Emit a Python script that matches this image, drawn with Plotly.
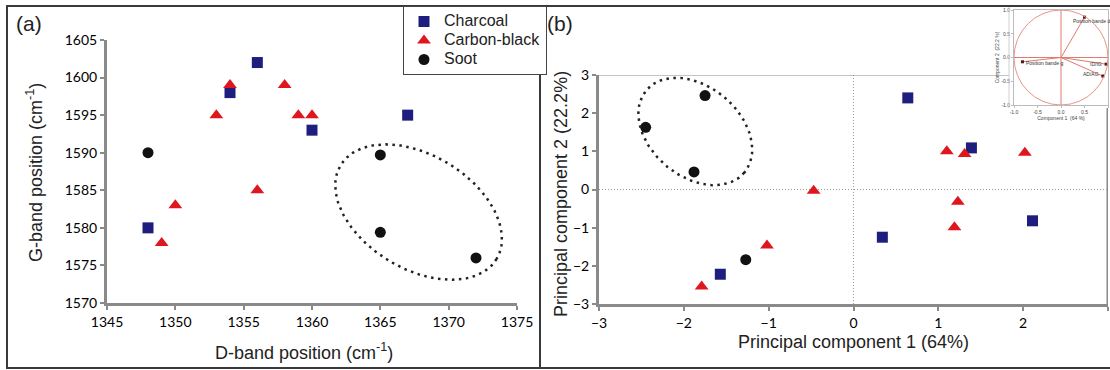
import numpy as np
import plotly.graph_objects as go

# ---------------- data ----------------
series_names = ["Charcoal", "Carbon-black", "Soot"]

# panel (a): D-band vs G-band position
a_charcoal_x = [1348, 1354, 1356, 1360, 1367]
a_charcoal_y = [1580, 1598, 1602, 1593, 1595]
a_carbon_x = [1349, 1350, 1353, 1354, 1356, 1358, 1359, 1360]
a_carbon_y = [1578, 1583, 1595, 1599, 1585, 1599, 1595, 1595]
a_soot_x = [1348, 1365, 1365, 1372]
a_soot_y = [1590, 1589.7, 1579.4, 1576]

# panel (b): PCA scores
b_charcoal_x = [0.64, 1.39, 2.11, 0.34, -1.57]
b_charcoal_y = [2.40, 1.09, -0.82, -1.25, -2.22]
b_carbon_x = [1.10, 1.31, 2.02, 1.23, 1.19, -0.47, -1.02, -1.79]
b_carbon_y = [1.00, 0.93, 0.96, -0.32, -0.99, -0.03, -1.47, -2.54]
b_soot_x = [-1.75, -2.45, -1.88, -1.27]
b_soot_y = [2.46, 1.63, 0.46, -1.84]

# inset: loading vectors (correlation circle)
load_names = ["Position bande d", "Position bande g", "ID/IG", "AD/AG"]
load_x = [0.50, -0.82, 0.96, 0.89]
load_y = [0.85, -0.09, -0.14, -0.39]

a_xticks = [1345, 1350, 1355, 1360, 1365, 1370, 1375]
a_yticks = [1570, 1575, 1580, 1585, 1590, 1595, 1600, 1605]
b_ticks = [-3, -2, -1, 0, 1, 2, 3]
inset_ticks = [-1.0, -0.5, 0.0, 0.5, 1.0]
inset_ticktext = ["-1.0", "-0.5", "0.0", "0.5", "1.0"]

# ---------------- styling ----------------
W, H = 1110, 370
C_SQ = "#1e1e7e"
C_TRI = "#e0161e"
C_CIR = "#111111"
AX = "#8a8a8a"
TICKFONT = dict(family="Lato, Open Sans, sans-serif", size=14, color="#000")
TITLEFONT = dict(family="Liberation Sans, Arial, sans-serif", size=18, color="#222")


def px_x(p):
    return p / W


def px_y(p):
    return 1 - p / H


# plot area pixel boxes
A_BOX = (107, 517, 40, 303)
B_BOX = (599, 1108, 75, 304)
I_BOX = (1014, 1108, 10, 105)

fig = go.Figure()

sym = {"Charcoal": ("square", C_SQ, 11), "Carbon-black": ("triangle-up", C_TRI, 12), "Soot": ("circle", C_CIR, 11)}

a_data = {"Charcoal": (a_charcoal_x, a_charcoal_y), "Carbon-black": (a_carbon_x, a_carbon_y), "Soot": (a_soot_x, a_soot_y)}
b_data = {"Charcoal": (b_charcoal_x, b_charcoal_y), "Carbon-black": (b_carbon_x, b_carbon_y), "Soot": (b_soot_x, b_soot_y)}

for name in series_names:
    s, c, sz = sym[name]
    x, y = a_data[name]
    fig.add_trace(go.Scatter(x=x, y=y, mode="markers", name='<span style="font-size:16px">' + name + "</span>",
                             xaxis="x", yaxis="y",
                             marker=dict(symbol=s, color=c, size=sz, line=dict(width=0))))
for name in series_names:
    s, c, sz = sym[name]
    x, y = b_data[name]
    fig.add_trace(go.Scatter(x=x, y=y, mode="markers", name=name, xaxis="x2", yaxis="y2", showlegend=False,
                             marker=dict(symbol=s, color=c, size=sz, line=dict(width=0))))


# dotted ellipses (decoration), defined by centre in data units and semi-axes in pixels
def ellipse(cx, cy, a_px, b_px, ang_deg, sx, sy, n=200):
    t = np.linspace(0, 2 * np.pi, n)
    th = np.deg2rad(ang_deg)
    dx = a_px * np.cos(t) * np.cos(th) - b_px * np.sin(t) * np.sin(th)
    dy = a_px * np.cos(t) * np.sin(th) + b_px * np.sin(t) * np.cos(th)
    return cx + dx / sx, cy - dy / sy


a_sx = (A_BOX[1] - A_BOX[0]) / 30.0
a_sy = (A_BOX[3] - A_BOX[2]) / 35.0
b_sx = (B_BOX[1] - B_BOX[0]) / 6.0
b_sy = (B_BOX[3] - B_BOX[2]) / 6.0

ex, ey = ellipse(1367.8, 1582.1, 91, 57, 31, a_sx, a_sy)
fig.add_trace(go.Scatter(x=ex, y=ey, mode="lines", xaxis="x", yaxis="y", showlegend=False, hoverinfo="skip",
                         line=dict(color="#222", width=2.5, dash="2.5px,4.5px")))
ex, ey = ellipse(-1.865, 1.52, 64, 45, 40, b_sx, b_sy)
fig.add_trace(go.Scatter(x=ex, y=ey, mode="lines", xaxis="x2", yaxis="y2", showlegend=False, hoverinfo="skip",
                         line=dict(color="#222", width=2.5, dash="2.5px,4.5px")))

# inset loading vectors
for lx, ly in zip(load_x, load_y):
    fig.add_trace(go.Scatter(x=[0, lx], y=[0, ly], mode="lines", xaxis="x3", yaxis="y3", showlegend=False,
                             hoverinfo="skip", line=dict(color="#e07a6e", width=1)))
fig.add_trace(go.Scatter(x=load_x, y=load_y, mode="markers", xaxis="x3", yaxis="y3", showlegend=False,
                         marker=dict(symbol="square", size=3, color="#5a1010")))

axis_common = dict(showline=True, linecolor=AX, linewidth=3, ticks="outside", ticklen=4, tickwidth=2,
                   tickcolor=AX, showgrid=False, zeroline=False, tickfont=TICKFONT, automargin=False)
inset_font = dict(family="Liberation Sans, Arial", size=5, color="#444")
inset_common = dict(range=[-1, 1], tickvals=inset_ticks, ticktext=inset_ticktext, showline=True, mirror=True,
                    linecolor="#bbbbbb", linewidth=1, ticks="outside", ticklen=2, tickcolor="#bbbbbb",
                    showgrid=False, zeroline=False, tickfont=inset_font, automargin=False)

fig.update_layout(
    width=W, height=H, margin=dict(l=0, r=0, t=0, b=0, autoexpand=False),
    paper_bgcolor="white", plot_bgcolor="white",
    xaxis=dict(domain=[px_x(A_BOX[0]), px_x(A_BOX[1])], range=[1345, 1375], tickvals=a_xticks, anchor="y", **axis_common),
    yaxis=dict(domain=[px_y(A_BOX[3]), px_y(A_BOX[2])], range=[1570, 1605], tickvals=a_yticks, anchor="x", **axis_common),
    xaxis2=dict(domain=[px_x(B_BOX[0]), px_x(B_BOX[1])], range=[-3, 3], tickvals=b_ticks, anchor="y2", **axis_common),
    yaxis2=dict(domain=[px_y(B_BOX[3]), px_y(B_BOX[2])], range=[-3, 3], tickvals=b_ticks, anchor="x2", **axis_common),
    xaxis3=dict(domain=[px_x(I_BOX[0]), px_x(I_BOX[1])], anchor="y3",
                title=dict(text="Component 1  (64 %)", font=inset_font, standoff=1), **inset_common),
    yaxis3=dict(domain=[px_y(I_BOX[3]), px_y(I_BOX[2])], anchor="x3",
                title=dict(text="Component 2  (22.2 %)", font=inset_font, standoff=1), **inset_common),
    legend=dict(x=px_x(403), y=px_y(6), xanchor="left", yanchor="top", bgcolor="white",
                bordercolor="#444", borderwidth=1,
                font=dict(family="Liberation Sans, Arial, sans-serif", size=11, color="#222"),
                tracegroupgap=0),
    showlegend=True,
)

shapes = []
# panel frames
shapes.append(dict(type="rect", xref="paper", yref="paper", x0=px_x(7), x1=px_x(540), y0=px_y(368), y1=px_y(6),
                   line=dict(color="#3a3a3a", width=2)))
shapes.append(dict(type="rect", xref="paper", yref="paper", x0=px_x(540), x1=px_x(1116), y0=px_y(368), y1=px_y(6),
                   line=dict(color="#3a3a3a", width=2)))
# panel (b) zero lines
shapes.append(dict(type="line", xref="x2", yref="y2", x0=0, x1=0, y0=-3, y1=3, layer="below",
                   line=dict(color="#9a9a9a", width=1, dash="1px,2px")))
shapes.append(dict(type="line", xref="x2", yref="y2", x0=-3, x1=3, y0=0, y1=0, layer="below",
                   line=dict(color="#9a9a9a", width=1, dash="1px,2px")))
# panel (b) top and right frame lines (stopping at the inset)
inset_left_data = -3 + (1009 - B_BOX[0]) / b_sx
inset_bottom_data = 3 - (108 - B_BOX[2]) / b_sy
shapes.append(dict(type="line", xref="x2", yref="y2", x0=-3, x1=inset_left_data, y0=3, y1=3,
                   line=dict(color="#8a8a8a", width=1)))
shapes.append(dict(type="line", xref="x2", yref="y2", x0=3, x1=3, y0=-3, y1=inset_bottom_data,
                   line=dict(color=AX, width=3)))
shapes.append(dict(type="line", xref="paper", yref="paper", x0=px_x(1009), x1=px_x(1009), y0=px_y(108), y1=px_y(7),
                   line=dict(color="#d0d0d0", width=1)))
# inset correlation circle and axes
shapes.append(dict(type="circle", xref="x3", yref="y3", x0=-1, x1=1, y0=-1, y1=1,
                   line=dict(color="#e89488", width=1)))
shapes.append(dict(type="line", xref="x3", yref="y3", x0=-1, x1=1, y0=0, y1=0, line=dict(color="#e07a6e", width=1)))
shapes.append(dict(type="line", xref="x3", yref="y3", x0=0, x1=0, y0=-1, y1=1, line=dict(color="#e07a6e", width=1)))
fig.update_layout(shapes=shapes)


def label(text, x, y, font, angle=0):
    return dict(text=text, x=px_x(x), y=px_y(y), xref="paper", yref="paper", showarrow=False,
                xanchor="center", yanchor="middle", textangle=angle, font=font)


ann = []
panel_font = dict(family="Liberation Sans, Arial", size=21, color="#222")
ann.append(label("(a)", 29, 23, panel_font))
ann.append(label("(b)", 560, 23, panel_font))
ann.append(label("D-band position (cm<sup>-1</sup>)", 304, 351, TITLEFONT))
ann.append(label("G-band position (cm<sup>-1</sup>)", 34, 173, TITLEFONT, -90))
ann.append(label("Principal component 1 (64%)", 853, 342, TITLEFONT))
ann.append(label("Principal component 2 (22.2%)", 561, 194, TITLEFONT, -90))
# inset labels
inset_anchor = ["left", "left", "right", "right"]
inset_shift = [(-14, -4), (2, -1), (-2, 0), (-2, 2)]
for nm, lx, ly, anc, (sx_, sy_) in zip(load_names, load_x, load_y, inset_anchor, inset_shift):
    ann.append(dict(text=nm, x=lx, y=ly, xref="x3", yref="y3", showarrow=False, xanchor=anc,
                    xshift=sx_, yshift=sy_, font=dict(family="Liberation Sans, Arial", size=5, color="#333")))
fig.update_layout(annotations=ann)

fig.write_html("out.html")
